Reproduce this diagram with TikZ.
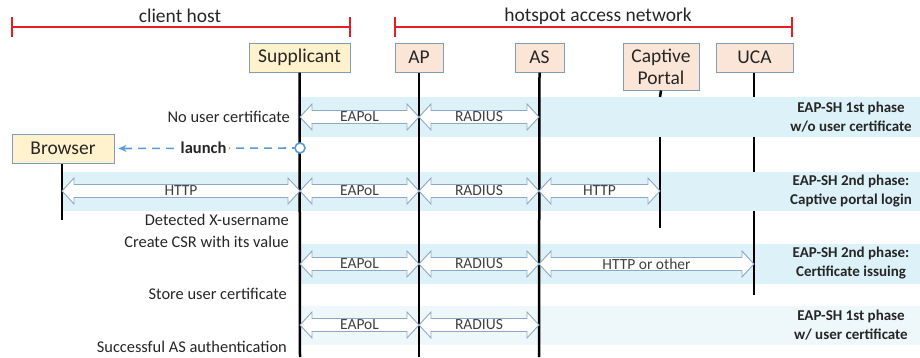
\documentclass[tikz,border=0pt]{standalone}
\usepackage{fontspec}
\setmainfont{Carlito}
\usetikzlibrary{arrows.meta}
\definecolor{boxline}{HTML}{7F9DB9}
\definecolor{yfill}{HTML}{FFF2CC}
\definecolor{pfill}{HTML}{FBE5D6}
\definecolor{bandc}{HTML}{DDF2F8}
\definecolor{bandlight}{HTML}{EEF8FB}
\definecolor{arrline}{HTML}{8EA9C8}
\definecolor{redline}{HTML}{E31E24}
\definecolor{launchblue}{HTML}{5B9BD5}
\definecolor{txt}{HTML}{262626}
\definecolor{atxt}{HTML}{404040}
\newcommand{\dblarr}[4]{%
  \draw[arrshape] (#1,#3) -- ({#1+12},{#3-13}) -- ({#1+12},{#3-6.5}) -- ({#2-12},{#3-6.5}) -- ({#2-12},{#3-13}) -- (#2,#3) -- ({#2-12},{#3+13}) -- ({#2-12},{#3+6.5}) -- ({#1+12},{#3+6.5}) -- ({#1+12},{#3+13}) -- cycle;
  \node[arrlabel] at ({(#1+#2)/2},#3) {#4};}
\begin{document}
\begin{tikzpicture}[x=1pt,y=-1pt,
  actor/.style={draw=boxline, line width=1pt, minimum height=29pt, inner sep=0pt, font=\fontsize{19.5}{22}\selectfont, text=txt},
  supp/.style={actor, fill=yfill},
  net/.style={actor, fill=pfill},
  bandbox/.style={fill=bandc, draw=none},
  lifeline/.style={line width=2.5pt, black},
  bracket/.style={redline, line width=1.5pt},
  header/.style={font=\fontsize{19.5}{22}\selectfont, text=txt},
  arrshape/.style={draw=arrline, fill=white, line width=0.9pt, line join=miter},
  arrlabel/.style={font=\fontsize{15.5}{17}\selectfont, text=atxt, inner sep=0pt},
  sidetext/.style={font=\fontsize{16.4}{21}\selectfont, text=txt, anchor=east, inner sep=0pt},
  phasetext/.style={font=\bfseries\fontsize{15}{19}\selectfont, text=txt, align=center, inner sep=0pt},
  launchline/.style={launchblue, line width=1.6pt, dash pattern=on 8pt off 6pt}
]
\useasboundingbox (0,0) rectangle (920,357);
% brackets
\coordinate (c1) at (12,27); \coordinate (c2) at (350,27);
\coordinate (h1) at (395,27); \coordinate (h2) at (792,27);
\draw[bracket] (c1) -- (c2);
\draw[bracket] ([yshift=-10pt]c1) -- ([yshift=10pt]c1);
\draw[bracket] ([yshift=-10pt]c2) -- ([yshift=10pt]c2);
\draw[bracket] (h1) -- (h2);
\draw[bracket] ([yshift=-10pt]h1) -- ([yshift=10pt]h1);
\draw[bracket] ([yshift=-10pt]h2) -- ([yshift=10pt]h2);
\node[header] (hc) at (180,16) {client host};
\node[header] (hh) at (598,16) {hotspot access network};
% actors
\node[supp, minimum width=101pt] (sup) at (299.5,57.5) {Supplicant};
\node[net, minimum width=48pt] (ap) at (419,57.5) {AP};
\node[net, minimum width=49pt] (as) at (539.5,57.5) {AS};
\node[net, minimum width=76pt, minimum height=47pt, align=center] (cp) at (661,66.5) {Captive\\Portal};
\node[net, minimum width=77pt] (uca) at (754.5,57.5) {UCA};
\node[supp, minimum width=102pt] (br) at (63,148.5) {Browser};
% bands
\fill[bandbox] (300,97) rectangle (920,137);
\fill[bandbox] (62,172) rectangle (920,211);
\fill[bandbox] (300,244) rectangle (920,284);
\fill[bandbox, fill=bandlight] (300,306) rectangle (920,345);
% lifelines
\coordinate (supE) at (300,357);
\coordinate (apE) at (419,357);
\coordinate (asE) at (539,357);
\coordinate (brE) at (62,220);
\draw[lifeline] (sup.south) -- (supE);
\draw[lifeline] (ap.south) -- (apE);
\draw[lifeline] (as.south) -- (asE);
\draw[lifeline] (br.south -| brE) -- (brE);
\draw[lifeline] (cp.south) -- (660,97);
\draw[lifeline] (660,137) -- (660,228);
\draw[lifeline] (uca.south -| 754,0) -- (754,97);
\draw[lifeline] (754,137) -- (754,172);
\draw[lifeline] (754,211) -- (754,295);
% arrows band 1
\dblarr{300}{419}{117}{EAPoL}
\dblarr{419}{539}{117}{RADIUS}
% band 2
\dblarr{62}{300}{191}{HTTP}
\dblarr{300}{419}{191}{EAPoL}
\dblarr{419}{539}{191}{RADIUS}
\dblarr{539}{660}{191}{HTTP}
% band 3
\dblarr{300}{419}{264}{EAPoL}
\dblarr{419}{539}{264}{RADIUS}
\dblarr{539}{754}{264}{HTTP or other}
% band 4
\dblarr{300}{419}{325}{EAPoL}
\dblarr{419}{539}{325}{RADIUS}
% launch
\coordinate (lc) at (300,148);
\draw[launchline, -{Stealth[length=8pt,width=7pt]}, shorten >=4pt] (lc) -- (br.east) node[pos=0.52, fill=white, inner sep=3pt, text=txt, font=\bfseries\fontsize{16.5}{19}\selectfont] (ln) {launch};
\draw[launchblue, line width=1.6pt, fill=white] (lc) circle (5pt);
% side texts
\node[sidetext] (t1) at (290,117) {No user certificate};
\node[sidetext] (t2) at (289,220) {Detected X-username};
\node[sidetext] (t3) at (289,242) {Create CSR with its value};
\node[sidetext] (t4) at (287,294) {Store user certificate};
\node[sidetext] (t5) at (287,347) {Successful AS authentication};
% phase texts
\node[phasetext] (p1) at (851,117.5) {EAP-SH 1st phase\\w/o user certificate};
\node[phasetext] (p2) at (851,191) {EAP-SH 2nd phase:\\Captive portal login};
\node[phasetext] (p3) at (851,263) {EAP-SH 2nd phase:\\Certificate issuing};
\node[phasetext] (p4) at (851,325) {EAP-SH 1st phase\\w/ user certificate};
\end{tikzpicture}
\end{document}
